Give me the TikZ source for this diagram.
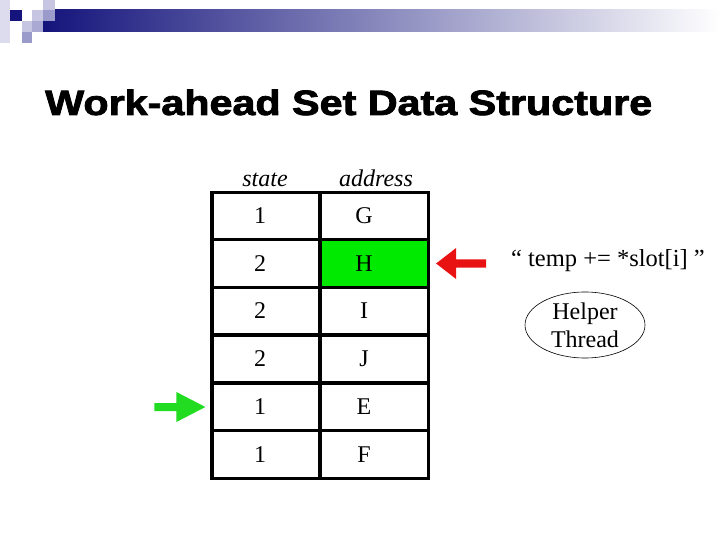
\documentclass[tikz,border=0pt]{standalone}
\usepackage{fontspec}
\setmainfont{Liberation Serif}
\newfontfamily\wstitlefont[BoldFeatures={FakeBold=2.2}]{Liberation Sans}
\usetikzlibrary{calc}
\usetikzlibrary{positioning}
\usetikzlibrary{shapes.geometric}
\definecolor{wsnavy}{HTML}{14147C}
\definecolor{wsmist}{HTML}{C2C2D6}
\definecolor{wspale}{HTML}{DCDCEE}
\definecolor{wslilac}{HTML}{C6C6E3}
\definecolor{wsviolet}{HTML}{9A9ACB}
\definecolor{wsgreen}{HTML}{00EA00}
\definecolor{wsred}{HTML}{E81212}
\definecolor{wsarrowgreen}{HTML}{22DC22}
\tikzset{
  wscell/.style={
    draw, line width=3.2bp, minimum width=108bp, minimum height=47.7bp,
    inner sep=0pt},
  wstext/.style={font=\fontsize{24bp}{28bp}\selectfont, inner sep=0pt},
  wshead/.style={wstext, font=\fontsize{24bp}{28bp}\selectfont\itshape},
}

\begin{document}
\begin{tikzpicture}[x=1bp, y=-1bp]
\useasboundingbox (0,0) rectangle (720,540);

% Banner squares and fading bar.
\shade[left color=wsnavy, middle color=wsmist, right color=white]
  (43,10) rectangle (720,32);
\fill[wspale] (0,0) rectangle (10,43);
\fill[wsnavy] (10,10) rectangle (22,21);
\fill[wslilac] (43,0) rectangle (55,10);
\fill[wslilac] (32,10) rectangle (43,21);
\fill[wsviolet] (43,10) rectangle (55,21);
\fill[wslilac] (22,21) rectangle (32,32);
\fill[wsviolet!85] (32,21) rectangle (43,32);
\fill[wsviolet] (22,32) rectangle (32,43);

% Title.
\node[anchor=base west, inner sep=0pt] (title) at (45,115)
  {\resizebox{607bp}{25.5bp}{\wstitlefont\bfseries Work-ahead Set Data Structure}};

% Column heads.
\node[wshead, anchor=base] (hstate) at (265,187) {state};
\node[wshead, anchor=base] (haddr) at (376,187) {address};

% The set: one row per slot, state and address.
\foreach \r/\y/\st/\ad in {1/216/1/G, 2/263.5/2/H, 3/311/2/I,
                           4/359/2/J, 5/407/1/E, 6/454.5/1/F} {
  \node[wscell] (s\r) at (266,\y) {};
  \node[wscell] (a\r) at (374.5,\y) {};
  \node[wstext] (sv\r) at (260,\y) {\st};
  \node[wstext] (av\r) at (364,\y) {\ad};
}
% Slot H is the one being read.
\node[wscell, fill=wsgreen] (a2) at (374.5,263.5) {};
\node[wstext] (av2) at (364,263.5) {H};

% Block arrows at the table.
\fill[wsred] ([xshift=6bp]a2.east) -- ++(20,-15.5) -- ++(0,11.5)
  -- ++(30,0) -- ++(0,8) -- ++(-30,0) -- ++(0,11.5) -- cycle;
\fill[wsarrowgreen] ([xshift=-5bp]s5.west) -- ++(-29,-15) -- ++(0,11)
  -- ++(-22,0) -- ++(0,8) -- ++(22,0) -- ++(0,11) -- cycle;

% Helper side.
\node[wstext] (code) at (608,261) {\fontsize{24.5bp}{28bp}\selectfont “ temp += *slot[i] ”};
\node[wstext, draw, line width=0.6bp, ellipse, minimum width=120bp,
      minimum height=66bp, align=center] (helper) at (585,325)
  {Helper\\Thread};

\end{tikzpicture}
\end{document}
